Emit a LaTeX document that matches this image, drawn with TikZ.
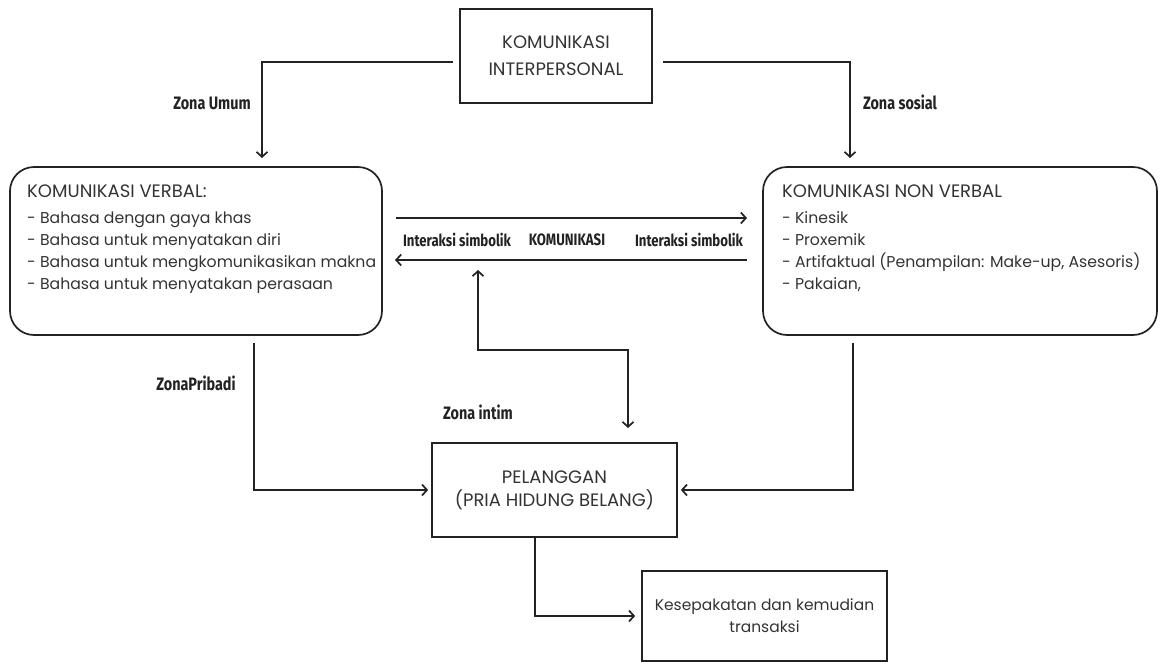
\documentclass[tikz,border=0pt]{standalone}
\usepackage{fontspec}
\setmainfont{Poppins}
\newfontfamily\labfont[FakeStretch=0.8]{Fira Sans}
\usetikzlibrary{arrows.meta}
\definecolor{ink}{HTML}{222222}
\definecolor{txt}{HTML}{333333}
\tikzset{
  box/.style={draw=ink, line width=1.7pt, align=center, inner sep=0pt, text=txt, font=\fontsize{18}{27}\selectfont},
  rbox/.style={draw=ink, line width=1.7pt, rounded corners=24pt, inner sep=0pt},
  itemtext/.style={anchor=base west, inner sep=0pt, text=txt, font=\fontsize{15.7}{18}\selectfont},
  headtext/.style={anchor=base west, inner sep=0pt, text=txt, font=\fontsize{18}{20}\selectfont},
  lab/.style={inner sep=0pt, text=ink, font=\labfont\bfseries\fontsize{18}{20}\selectfont},
  labs/.style={inner sep=0pt, text=ink, font=\labfont\bfseries\fontsize{16.5}{18}\selectfont},
  conn/.style={draw=ink, line width=1.7pt},
}
\begin{document}
\begin{tikzpicture}[x=1pt,y=-1pt, >={Straight Barb[length=5pt,width=11pt]}]
\useasboundingbox (0,0) rectangle (1160,664);
% boxes
\node[box, minimum width=192pt, minimum height=94pt] (T) at (556,56) {KOMUNIKASI\\INTERPERSONAL};
\node[rbox, minimum width=372pt, minimum height=168pt] (L) at (196,251) {};
\node[rbox, minimum width=394pt, minimum height=168pt] (R) at (960,251) {};
\node[box, minimum width=245pt, minimum height=94pt, font=\fontsize{18}{23}\selectfont] (P) at (554.5,490) {PELANGGAN\\(PRIA HIDUNG BELANG)};
\node[box, minimum width=245pt, minimum height=90pt, font=\fontsize{15.5}{22}\selectfont] (K) at (764.5,616) {Kesepakatan dan kemudian\\transaksi};
% left box text
\node[headtext] (l0) at (27,197) {KOMUNIKASI VERBAL:};
\node[itemtext] (l1) at (27,223) {- Bahasa dengan gaya khas};
\node[itemtext] (l2) at (27,245) {- Bahasa untuk menyatakan diri};
\node[itemtext] (l3) at (27,267) {- Bahasa untuk mengkomunikasikan makna};
\node[itemtext] (l4) at (27,289) {- Bahasa untuk menyatakan perasaan};
% right box text
\node[headtext] (r0) at (782,197) {KOMUNIKASI NON VERBAL};
\node[itemtext] (r1) at (782,223) {- Kinesik};
\node[itemtext] (r2) at (782,245) {- Proxemik};
\node[itemtext] (r3) at (782,267) {- Artifaktual (Penampilan: Make-up, Asesoris)};
\node[itemtext] (r4) at (782,289) {- Pakaian,};
% labels
\node[lab] (zu) at (212,103) {Zona Umum};
\node[lab] (zs) at (900,102) {Zona sosial};
\node[lab] (zp) at (196,383) {ZonaPribadi};
\node[lab] (zi) at (478,412) {Zona intim};
\node[labs] (is1) at (457,240) {Interaksi simbolik};
\node[labs] (km) at (567,240) {KOMUNIKASI};
\node[labs] (is2) at (689,240) {Interaksi simbolik};
% coordinates
\coordinate (cUL) at (262,158);
\coordinate (cUR) at (850,158);
\coordinate (a1) at (396,218);
\coordinate (a2) at (747,218);
\coordinate (b1) at (747,260);
\coordinate (b2) at (395,260);
\coordinate (i1) at (478,270);
\coordinate (i2) at (628,350);
\coordinate (i3) at (628,428);
\coordinate (pL) at (254,343);
\coordinate (pR) at (853,343);
\coordinate (pK) at (535,537);
% connectors
\draw[conn,->] ([shift={(-6pt,-6pt)}]T.west) -| (cUL);
\draw[conn,->] ([shift={(10pt,-6pt)}]T.east) -| (cUR);
\draw[conn,->] (a1) -- (a2);
\draw[conn,->] (b1) -- (b2);
\draw[conn,<->] (i1) |- (i2) -- (i3);
\draw[conn,->, shorten >=3pt] (pL) |- (P.west);
\draw[conn,->, shorten >=3pt] (pR) |- (P.east);
\draw[conn,->, shorten >=6pt] (pK) |- (K.west);
\end{tikzpicture}
\end{document}
